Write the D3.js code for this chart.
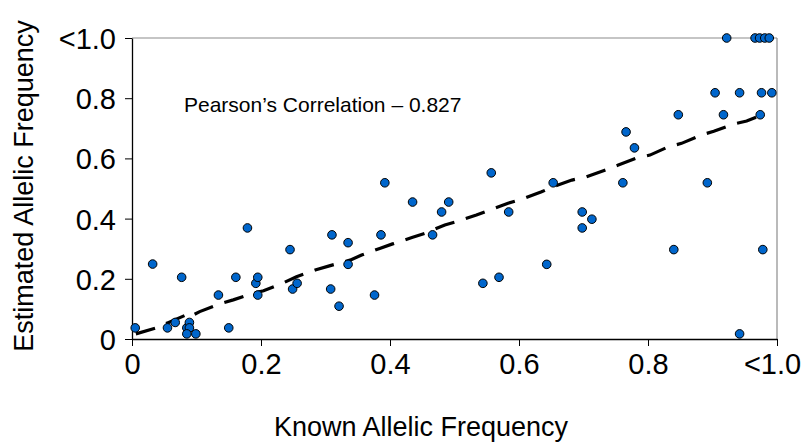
<!DOCTYPE html>
<html>
<head>
<meta charset="utf-8">
<script src="https://cdn.jsdelivr.net/npm/d3@7"></script>
<style>
  html, body { margin: 0; padding: 0; background: #fff; }
  svg { display: block; }
  text { font-family: "Liberation Sans", Arial, sans-serif; fill: #000; }
</style>
</head>
<body>
<svg id="chart" width="804" height="445"></svg>
<script>
// ---- Data ----
const knownFreq = [0.005, 0.032, 0.055, 0.067, 0.077, 0.085, 0.089, 0.089, 0.085, 0.099,
  0.134, 0.150, 0.161, 0.179, 0.192, 0.195, 0.195, 0.245, 0.249, 0.256,
  0.308, 0.310, 0.321, 0.335, 0.335, 0.376, 0.386, 0.392, 0.435, 0.466,
  0.480, 0.491, 0.544, 0.557, 0.569, 0.584, 0.643, 0.653, 0.698, 0.698,
  0.713, 0.761, 0.766, 0.779, 0.840, 0.847, 0.892, 0.904, 0.917, 0.922,
  0.942, 0.942, 0.966, 0.973, 0.974, 0.976, 0.978, 0.981, 0.988, 0.992];
const estimatedFreq = [0.037, 0.249, 0.037, 0.055, 0.205, 0.037, 0.055, 0.037, 0.017, 0.017,
  0.146, 0.037, 0.205, 0.369, 0.185, 0.205, 0.146, 0.297, 0.166, 0.185,
  0.166, 0.346, 0.109, 0.320, 0.248, 0.146, 0.346, 0.519, 0.455, 0.346,
  0.422, 0.455, 0.185, 0.552, 0.205, 0.422, 0.248, 0.519, 0.422, 0.369,
  0.398, 0.519, 0.688, 0.635, 0.297, 0.745, 0.519, 0.818, 0.745, 1.0,
  0.818, 0.017, 1.0, 1.0, 0.745, 0.818, 0.297, 1.0, 1.0, 0.818];

// Moving-average trend line (traced)
const trendX = [0.006, 0.036, 0.056, 0.084, 0.088, 0.105, 0.135, 0.157, 0.188, 0.204,
  0.235, 0.255, 0.284, 0.306, 0.338, 0.356, 0.384, 0.404, 0.434, 0.454,
  0.485, 0.503, 0.534, 0.555, 0.583, 0.604, 0.635, 0.653, 0.682, 0.702,
  0.733, 0.754, 0.781, 0.803, 0.831, 0.852, 0.883, 0.902, 0.932, 0.953, 0.981];
const trendY = [0.017, 0.036, 0.054, 0.080, 0.072, 0.091, 0.116, 0.130, 0.152, 0.160,
  0.187, 0.207, 0.229, 0.243, 0.262, 0.279, 0.301, 0.316, 0.337, 0.351,
  0.379, 0.390, 0.412, 0.429, 0.451, 0.464, 0.489, 0.506, 0.528, 0.537,
  0.561, 0.578, 0.600, 0.611, 0.638, 0.650, 0.678, 0.690, 0.714, 0.724, 0.748];

const tickValues = [0, 0.2, 0.4, 0.6, 0.8, 1.0];
const tickLabels = ["0", "0.2", "0.4", "0.6", "0.8", "<1.0"];

const xTitle = "Known Allelic Frequency";
const yTitle = "Estimated Allelic Frequency";
const annotation = "Pearson\u2019s Correlation \u2013 0.827";

// ---- Layout ----
const svg = d3.select("#chart");
const margin = { left: 132, top: 38, right: 27, bottom: 106 };
const W = 804, H = 445;
const iw = W - margin.left - margin.right;
const ih = H - margin.top - margin.bottom;

const x = d3.scaleLinear().domain([0, 1]).range([0, iw]);
const y = d3.scaleLinear().domain([0, 1]).range([ih, 0]);

const g = svg.append("g").attr("transform", `translate(${margin.left},${margin.top})`);

// frame top/right in gray
g.append("line").attr("x1", 0).attr("x2", iw).attr("y1", 0).attr("y2", 0)
  .attr("stroke", "#8c8c8c").attr("stroke-width", 1.2);
g.append("line").attr("x1", iw).attr("x2", iw).attr("y1", 0).attr("y2", ih)
  .attr("stroke", "#8c8c8c").attr("stroke-width", 1.2);

// axes
const xAxis = d3.axisBottom(x).tickValues(tickValues)
  .tickFormat((d, i) => tickLabels[i]).tickSize(7).tickSizeOuter(0).tickPadding(7);
const yAxis = d3.axisLeft(y).tickValues(tickValues)
  .tickFormat((d, i) => tickLabels[i]).tickSize(7).tickSizeOuter(0).tickPadding(9);

const gx = g.append("g").attr("transform", `translate(0,${ih})`).call(xAxis);
const gy = g.append("g").call(yAxis);
[gx, gy].forEach(a => {
  a.select(".domain").attr("stroke", "#000").attr("stroke-width", 1.3);
  a.selectAll(".tick line").attr("stroke", "#000").attr("stroke-width", 1);
  a.selectAll(".tick text").attr("font-size", 29).attr("fill", "#000")
    .style("font-family", "'Liberation Sans', Arial, sans-serif");
});
gy.selectAll(".tick text").attr("dy", "0.36em");
// keep last x label inside the canvas
gx.selectAll(".tick text").filter((d, i) => i === tickValues.length - 1).attr("dx", -5);

// trend line
const trend = trendX.map((v, i) => [v, trendY[i]]);
g.append("path")
  .datum(trend)
  .attr("fill", "none")
  .attr("stroke", "#000")
  .attr("stroke-width", 3.2)
  .attr("stroke-dasharray", "20,12")
  .attr("d", d3.line().x(d => x(d[0])).y(d => y(d[1])));

// points
const pts = knownFreq.map((v, i) => ({ k: v, e: estimatedFreq[i] }));
g.selectAll("circle.pt").data(pts).enter().append("circle")
  .attr("class", "pt")
  .attr("cx", d => x(d.k))
  .attr("cy", d => y(d.e))
  .attr("r", 4.3)
  .attr("fill", "#0066CC")
  .attr("stroke", "#000")
  .attr("stroke-width", 1);

// annotation
g.append("text")
  .attr("x", 184 - margin.left)
  .attr("y", 112 - margin.top)
  .attr("font-size", 21)
  .text(annotation);

// axis titles
svg.append("text")
  .attr("x", 421).attr("y", 436)
  .attr("text-anchor", "middle")
  .attr("font-size", 27)
  .text(xTitle);

svg.append("text")
  .attr("transform", "translate(33,186) rotate(-90)")
  .attr("text-anchor", "middle")
  .attr("font-size", 27)
  .text(yTitle);
</script>
</body>
</html>
